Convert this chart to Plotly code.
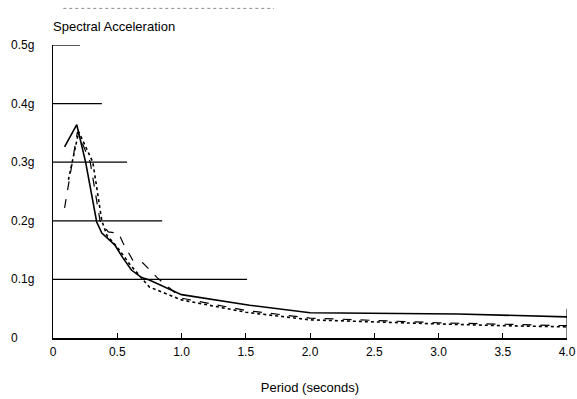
import plotly.graph_objects as go

# Period (s) and spectral acceleration (g) for the three spectra
solid_x = [0.09, 0.185, 0.255, 0.34, 0.38, 0.48, 0.54, 0.61, 0.69, 0.75, 1.0, 1.53, 2.0, 3.15, 4.0]
solid_y = [0.326, 0.364, 0.299, 0.198, 0.179, 0.159, 0.138, 0.116, 0.103, 0.099, 0.074, 0.056, 0.043, 0.041, 0.036]

dash_x = [0.09, 0.19, 0.29, 0.366, 0.43, 0.51, 0.545, 0.62, 0.70, 0.81, 1.0, 1.5, 2.0, 3.0, 4.0]
dash_y = [0.222, 0.352, 0.300, 0.200, 0.181, 0.179, 0.162, 0.133, 0.128, 0.103, 0.068, 0.047, 0.034, 0.026, 0.021]

dot_x = [0.12, 0.20, 0.31, 0.38, 0.42, 0.50, 0.60, 0.70, 0.75, 1.0, 1.5, 2.0, 2.5, 3.0, 3.5, 4.0]
dot_y = [0.270, 0.352, 0.300, 0.200, 0.175, 0.155, 0.125, 0.100, 0.087, 0.065, 0.044, 0.031, 0.027, 0.024, 0.021, 0.019]

# Reference levels drawn from the y axis, with their extents in seconds
ref_levels = [0.1, 0.2, 0.3, 0.4, 0.5]
ref_extents = [1.51, 0.85, 0.576, 0.38, 0.21]

x_tickvals = [0, 0.5, 1.0, 1.5, 2.0, 2.5, 3.0, 3.5, 4.0]
x_ticktext = ["0", "0.5", "1.0", "1.5", "2.0", "2.5", "3.0", "3.5", "4.0"]
y_tickvals = [0, 0.1, 0.2, 0.3, 0.4, 0.5]
y_ticktext = ["0", "0.1g", "0.2g", "0.3g", "0.4g", "0.5g"]

FONT = "Liberation Sans, Arial, sans-serif"
FS = 12

fig = go.Figure()

for lvl, ext in zip(ref_levels, ref_extents):
    fig.add_trace(go.Scatter(x=[0, ext], y=[lvl, lvl], mode="lines",
                             line=dict(color="black", width=1.3),
                             hoverinfo="skip", showlegend=False))

fig.add_trace(go.Scatter(x=solid_x, y=solid_y, mode="lines",
                         line=dict(color="black", width=1.6), showlegend=False))
fig.add_trace(go.Scatter(x=dash_x, y=dash_y, mode="lines",
                         line=dict(color="black", width=1.2, dash="dash"), showlegend=False))
fig.add_trace(go.Scatter(x=dot_x, y=dot_y, mode="lines",
                         line=dict(color="black", width=1.6, dash="dot"), showlegend=False))

# right-end stub
fig.add_trace(go.Scatter(x=[4.0, 4.0], y=[0, 0.05], mode="lines",
                         line=dict(color="black", width=1), hoverinfo="skip", showlegend=False))

for v, t in zip(y_tickvals, y_ticktext):
    fig.add_annotation(x=-0.085, xref="paper", y=v, yref="y", text=t, showarrow=False,
                       xanchor="left", yanchor="middle",
                       font=dict(family=FONT, size=FS, color="black"))

fig.add_annotation(x=-0.004, xref="paper", y=1.03, yref="paper", text="Spectral Acceleration",
                   showarrow=False, xanchor="left", yanchor="bottom",
                   font=dict(family=FONT, size=13, color="black"))

# faint scanned header line
fig.add_shape(type="line", xref="paper", yref="paper", x0=0.02, x1=0.43, y0=1.125, y1=1.125,
              line=dict(color="#888888", width=1, dash="dot"))

fig.update_layout(
    width=577, height=399,
    margin=dict(l=53, r=10, t=45, b=61),
    paper_bgcolor="white", plot_bgcolor="white",
    font=dict(family=FONT, size=FS, color="black"),
    hovermode=False,
    xaxis=dict(range=[0, 4.0], tickvals=x_tickvals, ticktext=x_ticktext, automargin=False,
               showgrid=False, zeroline=False, showline=True, linecolor="black", linewidth=1.5,
               ticks="inside", ticklen=5, tickcolor="black", tickwidth=1,
               ticklabelstandoff=2,
               title=dict(text="Period (seconds)", standoff=25, font=dict(family=FONT, size=13)),
               tickfont=dict(family=FONT, size=FS)),
    yaxis=dict(range=[0, 0.5], tickvals=y_tickvals, showticklabels=False, automargin=False,
               showgrid=False, zeroline=False, showline=True, linecolor="black", linewidth=1.2,
               ticks=""),
)

fig.write_html("out.html", config={"displayModeBar": False, "staticPlot": True},
               post_script="document.body.style.margin='0';document.body.style.overflow='hidden';")
